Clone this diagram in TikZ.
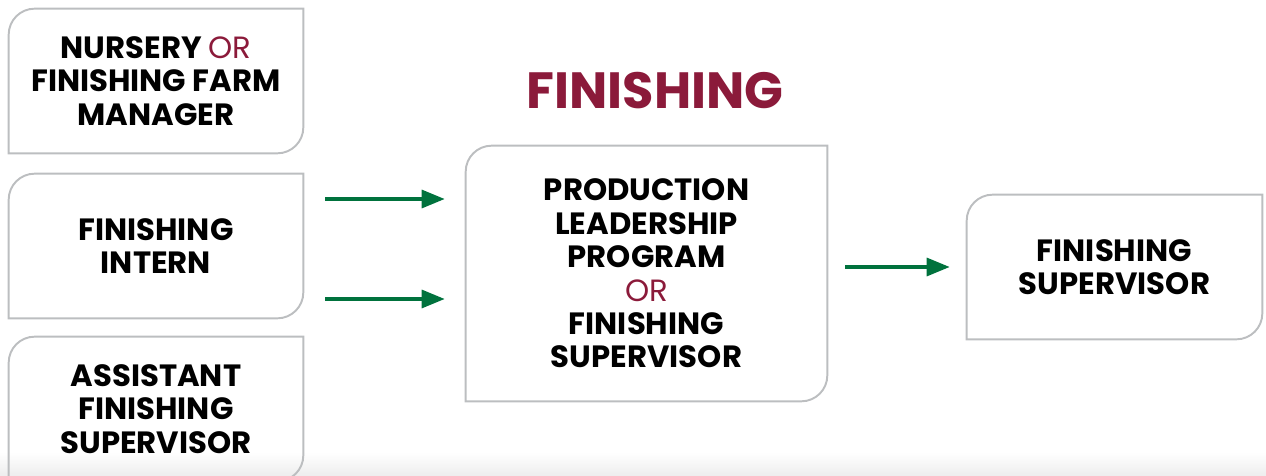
\documentclass[tikz,border=0pt]{standalone}
\usepackage{fontspec}
\setmainfont{Poppins}
\usetikzlibrary{arrows.meta,positioning}
\definecolor{maroon}{HTML}{8B1A3A}
\definecolor{leafgreen}{HTML}{00723D}
\definecolor{edgegray}{HTML}{BCBEC0}

\tikzset{
  role/.style={
    inner sep=0pt,
    minimum width=5.88cm, minimum height=2.88cm,
    align=center,
    font=\bfseries\fontsize{17.5}{19}\selectfont
  },
  flow/.style={draw=leafgreen, line width=1.8pt,
    -{Triangle[length=0.46cm,width=0.36cm]}},
  edge line/.style={draw=edgegray, line width=1.1pt}
}
\newcommand{\orword}{{\mdseries\color{maroon}OR}}
% border with two rounded corners (top left, bottom right)
\newcommand{\rolebox}[1]{%
  \draw[edge line] (#1.south west) -- ([yshift=-0.52cm]#1.north west)
    arc[start angle=180,end angle=90,radius=0.52cm] -- (#1.north east)
    -- ([yshift=0.52cm]#1.south east)
    arc[start angle=0,end angle=-90,radius=0.52cm] -- cycle;}

\begin{document}
\begin{tikzpicture}[x=0.02cm, y=-0.02cm]
\useasboundingbox (0,0) rectangle (1266,476);
\shade[top color=white, bottom color=black!7] (0,452) rectangle (1266,476);

% left column
\node[role] (manager) at (156,81) {NURSERY \orword\\FINISHING FARM\\MANAGER};
\node[role] (intern) at (156,246) {FINISHING\\INTERN};
\node[role] (assistant) at (156,409) {ASSISTANT\\FINISHING\\SUPERVISOR};

% middle
\node[font=\bfseries\fontsize{29}{32}\selectfont, text=maroon] (title) at (655,91) {FINISHING};
\node[role, minimum width=7.22cm, minimum height=5.1cm] (program) at (646.5,273.5)
  {PRODUCTION\\LEADERSHIP\\PROGRAM\\\orword\\FINISHING\\SUPERVISOR};

% right
\node[role, minimum width=5.9cm] (supervisor) at (1114.5,267) {FINISHING\\SUPERVISOR};

\foreach \n in {manager,intern,assistant,program,supervisor}
  \rolebox{\n};

\draw[flow, shorten <=0.44cm, shorten >=0.42cm]
  ([yshift=0.94cm]intern.east) -- ([yshift=0.94cm]intern.east -| program.west);
\draw[flow, shorten <=0.44cm, shorten >=0.42cm]
  ([yshift=-1.06cm]intern.east) -- ([yshift=-1.06cm]intern.east -| program.west);
\draw[flow, shorten <=0.36cm, shorten >=0.34cm]
  (program.east |- supervisor.west) -- (supervisor.west);
\end{tikzpicture}
\end{document}
